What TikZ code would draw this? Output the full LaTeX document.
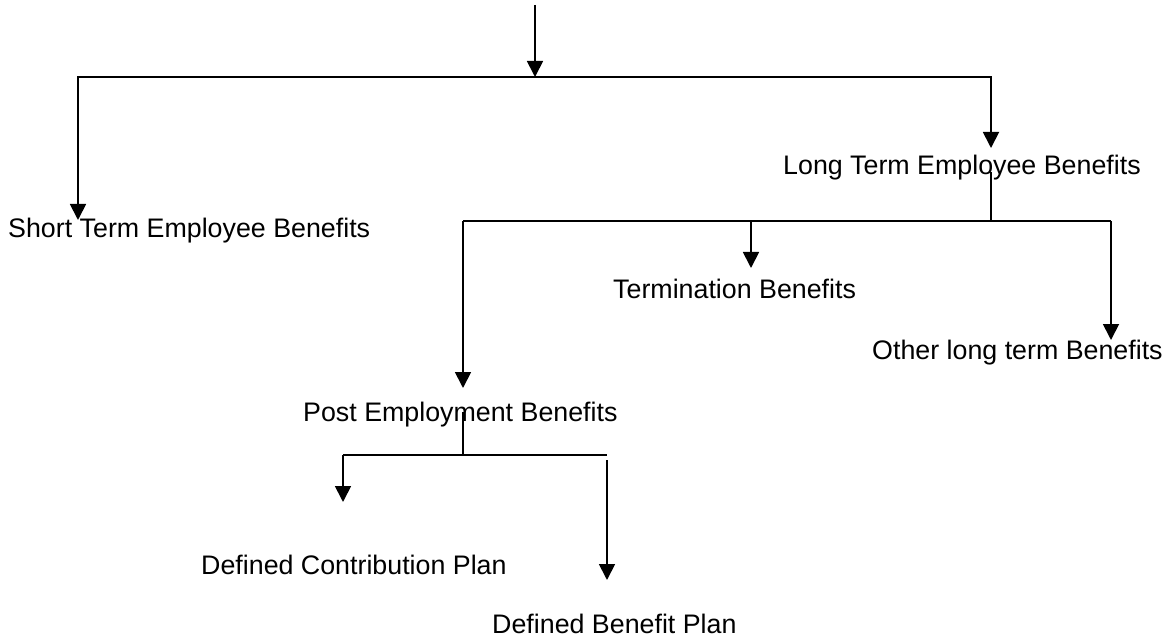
\documentclass[tikz,border=0pt]{standalone}
\usepackage{fontspec}
\setmainfont{Liberation Sans}
\usetikzlibrary{arrows.meta}
\begin{document}
\begin{tikzpicture}[x=1pt,y=-1pt,
  lbl/.style={anchor=base west,inner sep=0pt,font=\fontsize{26.8}{30}\selectfont},
  ln/.style={line width=1.8pt,black},
  arr/.style={ln,-{Triangle[width=16pt,length=16pt]}}]
\useasboundingbox (0,0) rectangle (1162,639);
% labels
\node[lbl] (st) at (8,237) {Short Term Employee Benefits};
\node[lbl] (lt) at (783,175) {Long Term Employee Benefits};
\node[lbl] (tb) at (613,298) {Termination Benefits};
\node[lbl] (ol) at (872,359) {Other long term Benefits};
\node[lbl] (pe) at (303,421) {Post Employment Benefits};
\node[lbl] (dc) at (201,574) {Defined Contribution Plan};
\node[lbl] (db) at (492,633) {Defined Benefit Plan};
% coordinates
\coordinate (in) at (535,5);
\coordinate (j0) at (535,77);
\coordinate (stT) at (78,220);
\coordinate (ltT) at (991,148);
\coordinate (ltS) at (991,172);
\coordinate (j1) at (991,221);
\coordinate (j1L) at (463,221);
\coordinate (j1M) at (751,221);
\coordinate (j1R) at (1111,221);
\coordinate (tbT) at (751,268);
\coordinate (peT) at (463,388);
\coordinate (olT) at (1111,340);
\coordinate (peS) at (463,412);
\coordinate (j2) at (463,455);
\coordinate (j2L) at (343,455);
\coordinate (j2R) at (607,455);
\coordinate (dbS) at (607,460);
\coordinate (dcT) at (343,502);
\coordinate (dbT) at (607,580);
% connectors
\draw[arr] (in) -- (j0);
\draw[arr] (j0) -| (stT);
\draw[arr] (j0) -| (ltT);
\draw[ln] (ltS) -- (j1);
\draw[ln] (j1L) -- (j1R);
\draw[arr] (j1L) -- (peT);
\draw[arr] (j1M) -- (tbT);
\draw[arr] (j1R) -- (olT);
\draw[ln] (peS) -- (j2);
\draw[ln] (j2L) -- (j2R);
\draw[arr] (j2L) -- (dcT);
\draw[arr] (dbS) -- (dbT);
\end{tikzpicture}
\end{document}
